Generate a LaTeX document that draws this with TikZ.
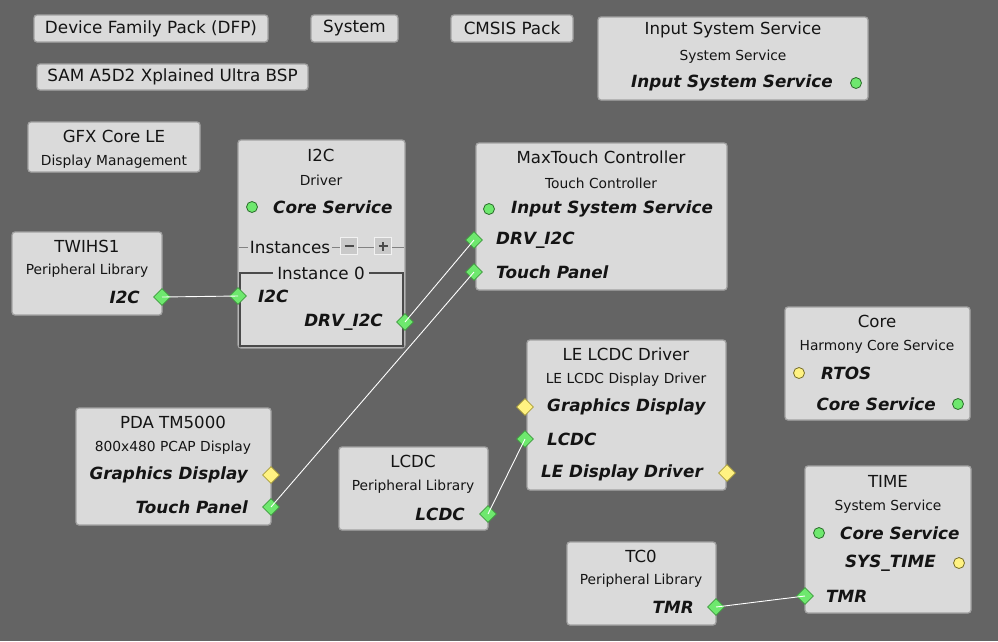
\documentclass[tikz,border=0pt]{standalone}
\usepackage{fontspec}
\setmainfont{DejaVu Sans}
\usetikzlibrary{shapes.geometric,fit}
\definecolor{bg}{HTML}{646464}
\definecolor{boxfill}{HTML}{DADADA}
\definecolor{boxline}{HTML}{A2A2A2}
\definecolor{instline}{HTML}{4A4A4A}
\definecolor{pgreen}{HTML}{6EE86E}
\definecolor{pgreenline}{HTML}{3E9A3E}
\definecolor{pyellow}{HTML}{FFF282}
\definecolor{pyellowline}{HTML}{A89C3A}
\definecolor{txt}{HTML}{141414}
\tikzset{
  box/.style={draw=boxline, fill=boxfill, rounded corners=3pt, line width=1.3pt, inner sep=0pt},
  pill/.style={box},
  big/.style={font=\fontsize{16.8}{19}\selectfont, text=txt, inner sep=0pt},
  ttl/.style={font=\fontsize{16.6}{19}\selectfont, text=txt, inner sep=0pt},
  sub/.style={font=\fontsize{13.8}{16}\selectfont, text=txt, inner sep=0pt},
  port/.style={font=\fontsize{16.8}{19}\selectfont\bfseries\itshape, text=txt, inner sep=0pt},
  dia/.style={diamond, minimum size=17pt, inner sep=0pt, line width=0.6pt},
  gdia/.style={dia, fill=pgreen, draw=pgreenline},
  ydia/.style={dia, fill=pyellow, draw=pyellowline},
  dot/.style={circle, minimum size=11pt, inner sep=0pt, line width=0.8pt},
  gdot/.style={dot, fill=pgreen, draw=pgreenline!70!black},
  ydot/.style={dot, fill=pyellow, draw=pyellowline!70!black},
  wire/.style={draw=white, line width=0.9pt},
  pmbox/.style={draw=white!95!black, fill=boxfill!92!black, minimum size=17pt, inner sep=0pt, line width=1.4pt}
}
\begin{document}
\begin{tikzpicture}[x=1pt,y=-1pt]
\fill[bg] (0,0) rectangle (998,641);
\useasboundingbox (0,0) rectangle (998,641);

% top pills
\node[pill, fit={(34,15) (268,42)}] (dfp) {};
\node[big] (dfpt) at (dfp.center) {Device Family Pack (DFP)};
\node[pill, fit={(311,15) (398,42)}] (sys) {};
\node[big] (syst) at (sys.center) {System};
\node[pill, fit={(451,15) (573,42)}] (cms) {};
\node[big] (cmst) at (cms.center) {CMSIS Pack};
\node[pill, fit={(37,64) (308,90)}] (bsp) {};
\node[big] (bspt) at (bsp.center) {SAM A5D2 Xplained Ultra BSP};

% Input System Service
\node[box, fit={(598,17) (868,100)}] (iss) {};
\node[ttl] (isst) at (733,30) {Input System Service};
\node[sub] (isss) at (733,57) {System Service};
\node[port, anchor=east] (issp) at (833,83) {Input System Service};
\node[gdot] (issd) at (856,83) {};

% GFX Core LE
\node[box, fit={(28,122) (200,172)}] (gfx) {};
\node[ttl] (gfxt) at (114,136) {GFX Core LE};
\node[sub] (gfxs) at (114,162) {Display Management};

% I2C driver
\node[box, fit={(238,140) (405,348)}] (i2c) {};
\node[ttl] (i2ct) at (321,155) {I2C};
\node[sub] (i2cs) at (321,180) {Driver};
\node[gdot] (i2cd) at (252,207) {};
\node[port, anchor=west] (i2cp) at (273,207) {Core Service};
\coordinate (instl) at (239,247);
\coordinate (instr) at (404,247);
\draw[boxline!80!black, line width=0.8pt] (instl) -- (instr);
\node[big, fill=boxfill, inner xsep=2pt] (instt) at (290,247) {Instances};
\node[pmbox] (minus) at (349,246) {};
\draw[instline, line width=1.8pt] ([xshift=-4.5pt]minus.center) -- ([xshift=4.5pt]minus.center);
\node[pmbox] (plus) at (383,246) {};
\draw[instline, line width=1.8pt] ([xshift=-4.5pt]plus.center) -- ([xshift=4.5pt]plus.center)
  ([yshift=-4.5pt]plus.center) -- ([yshift=4.5pt]plus.center);
\node[draw=instline, line width=1.3pt, fit={(240,273) (403,346)}, inner sep=0pt] (inst) {};
\node[big, fill=boxfill, inner xsep=4pt] (inst0) at (321,273) {Instance 0};
\node[port, anchor=west] (i2cin) at (258,296) {I2C};
\node[port, anchor=east] (i2cdrv) at (383,322) {DRV\_I2C};
\node[gdia] (i2c-in) at (238,296) {};
\node[gdia] (i2c-drv) at (405,322) {};

% TWIHS1
\node[box, fit={(12,232) (162,315)}] (twi) {};
\node[ttl] (twit) at (87,246) {TWIHS1};
\node[sub] (twis) at (87,271) {Peripheral Library};
\node[port, anchor=east] (twip) at (140,297) {I2C};
\node[gdia] (twi-i2c) at (162,297) {};

% MaxTouch
\node[box, fit={(476,143) (727,290)}] (mxt) {};
\node[ttl] (mxtt) at (601,157) {MaxTouch Controller};
\node[sub] (mxts) at (601,183) {Touch Controller};
\node[gdot] (mxtd) at (489,209) {};
\node[port, anchor=west] (mxtp) at (511,209) {Input System Service};
\node[port, anchor=west] (mxtdrvt) at (496,240) {DRV\_I2C};
\node[port, anchor=west] (mxttpt) at (496,272) {Touch Panel};
\node[gdia] (mxt-drv) at (474,240) {};
\node[gdia] (mxt-tp) at (474,272) {};

% Core
\node[box, fit={(785,307) (970,420)}] (core) {};
\node[ttl] (coret) at (877,321) {Core};
\node[sub] (cores) at (877,347) {Harmony Core Service};
\node[ydot] (core-rtos) at (799,373) {};
\node[port, anchor=west] (corertos) at (821,373) {RTOS};
\node[port, anchor=east] (corecs) at (936,404) {Core Service};
\node[gdot] (core-cs) at (958,404) {};

% PDA TM5000
\node[box, fit={(76,408) (271,525)}] (pda) {};
\node[ttl] (pdat) at (173,422) {PDA TM5000};
\node[sub] (pdas) at (173,448) {800x480 PCAP Display};
\node[port, anchor=east] (pdagd) at (248,475) {Graphics Display};
\node[port, anchor=east] (pdatp) at (248,507) {Touch Panel};
\node[ydia] (pda-gd) at (271,475) {};
\node[gdia] (pda-tp) at (271,507) {};

% LCDC
\node[box, fit={(339,447) (488,530)}] (lcdc) {};
\node[ttl] (lcdct) at (413,461) {LCDC};
\node[sub] (lcdcs) at (413,487) {Peripheral Library};
\node[port, anchor=east] (lcdcp) at (465,514) {LCDC};
\node[gdia] (lcdc-p) at (488,514) {};

% LE LCDC Driver
\node[box, fit={(527,340) (726,490)}] (lel) {};
\node[ttl] (lelt) at (626,354) {LE LCDC Driver};
\node[sub] (lels) at (626,380) {LE LCDC Display Driver};
\node[port, anchor=west] (lelgd) at (547,407) {Graphics Display};
\node[port, anchor=west] (lellc) at (547,439) {LCDC};
\node[port, anchor=east] (lelld) at (703,473) {LE Display Driver};
\node[ydia] (lel-gd) at (525,407) {};
\node[gdia] (lel-lcdc) at (525,439) {};
\node[ydia] (lel-ld) at (727,473) {};

% TIME
\node[box, fit={(805,466) (971,613)}] (time) {};
\node[ttl] (timet) at (888,481) {TIME};
\node[sub] (times) at (888,507) {System Service};
\node[gdot] (time-cs) at (819,533) {};
\node[port, anchor=west] (timecs) at (840,533) {Core Service};
\node[port, anchor=east] (timest) at (936,563) {SYS\_TIME};
\node[ydot] (time-st) at (959,563) {};
\node[port, anchor=west] (timetmr) at (826,596) {TMR};
\node[gdia] (time-tmr) at (805,596) {};

% TC0
\node[box, fit={(567,542) (716,625)}] (tc0) {};
\node[ttl] (tc0t) at (641,556) {TC0};
\node[sub] (tc0s) at (641,581) {Peripheral Library};
\node[port, anchor=east] (tc0p) at (694,607) {TMR};
\node[gdia] (tc0-tmr) at (716,607) {};

% connectors
\draw[wire] (twi-i2c.center) -- (i2c-in.center);
\draw[wire] (i2c-drv.center) -- (mxt-drv.center);
\draw[wire] (pda-tp.center) -- (mxt-tp.center);
\draw[wire] (lcdc-p.center) -- (lel-lcdc.center);
\draw[wire] (tc0-tmr.center) -- (time-tmr.center);
\end{tikzpicture}
\end{document}
